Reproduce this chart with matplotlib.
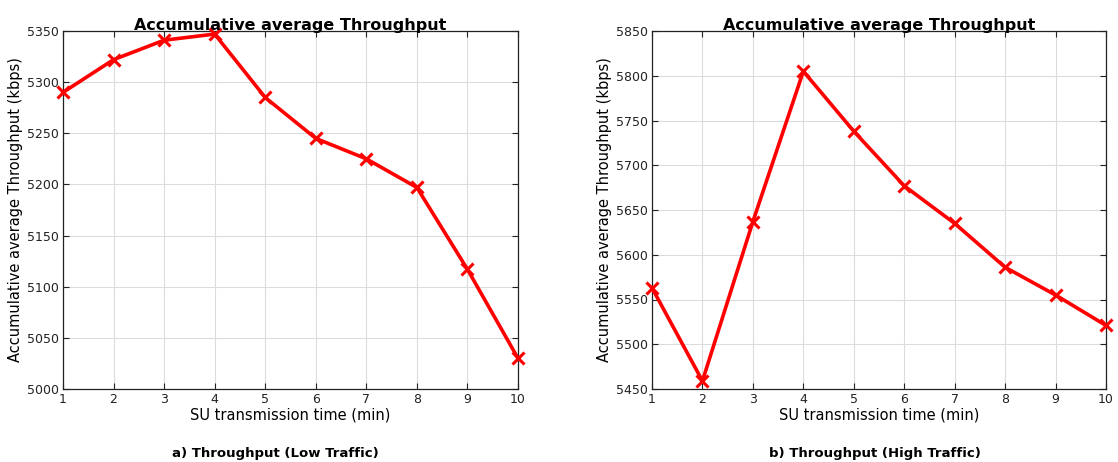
import matplotlib
matplotlib.use("Agg")
import matplotlib.pyplot as plt

x = [1, 2, 3, 4, 5, 6, 7, 8, 9, 10]
low_traffic = [5290, 5322, 5341, 5347, 5285, 5245, 5225, 5197, 5117, 5030]
high_traffic = [5563, 5459, 5637, 5805, 5738, 5677, 5635, 5586, 5555, 5521]
low_yticks = [5000, 5050, 5100, 5150, 5200, 5250, 5300, 5350]
high_yticks = [5450, 5500, 5550, 5600, 5650, 5700, 5750, 5800, 5850]

title = "Accumulative average Throughput"
xlabel = "SU transmission time (min)"
ylabel = "Accumulative average Throughput (kbps)"
captions = ["a) Throughput (Low Traffic)", "b) Throughput (High Traffic)"]

plt.rcParams['font.family'] = ['DejaVu Sans']
fig = plt.figure(figsize=(11.18, 4.62), dpi=100)

ax1 = fig.add_axes([63/1118, 1-389/462, (518-63)/1118, (389-31)/462])
ax2 = fig.add_axes([652/1118, 1-389/462, (1106-652)/1118, (389-31)/462])

for ax, y, yt in [(ax1, low_traffic, low_yticks), (ax2, high_traffic, high_yticks)]:
    ax.plot(x, y, color='#ff0000', lw=2.6, marker='x', markersize=9, markeredgewidth=2.2, clip_on=False, zorder=3)
    ax.set_xlim(1, 10)
    ax.set_ylim(yt[0], yt[-1])
    ax.set_xticks(x)
    ax.set_yticks(yt)
    ax.grid(True, color='#dcdcdc', lw=0.8)
    ax.set_axisbelow(True)
    ax.tick_params(direction='in', top=True, right=True, labelsize=9, length=4, colors='#222222', pad=3)
    for s in ax.spines.values():
        s.set_color('#222222')
        s.set_linewidth(0.9)
    ax.set_title(title, fontsize=11.5, fontweight='bold', pad=1)
    ax.set_xlabel(xlabel, fontsize=10.5, labelpad=1)
    ax.set_ylabel(ylabel, fontsize=10.5, labelpad=3)

fig.text(275/1118, 1-453/462, captions[0], ha='center', va='center', fontsize=9.5, fontweight='bold')
fig.text(875/1118, 1-453/462, captions[1], ha='center', va='center', fontsize=9.5, fontweight='bold')

fig.savefig("out.png", dpi=100)
